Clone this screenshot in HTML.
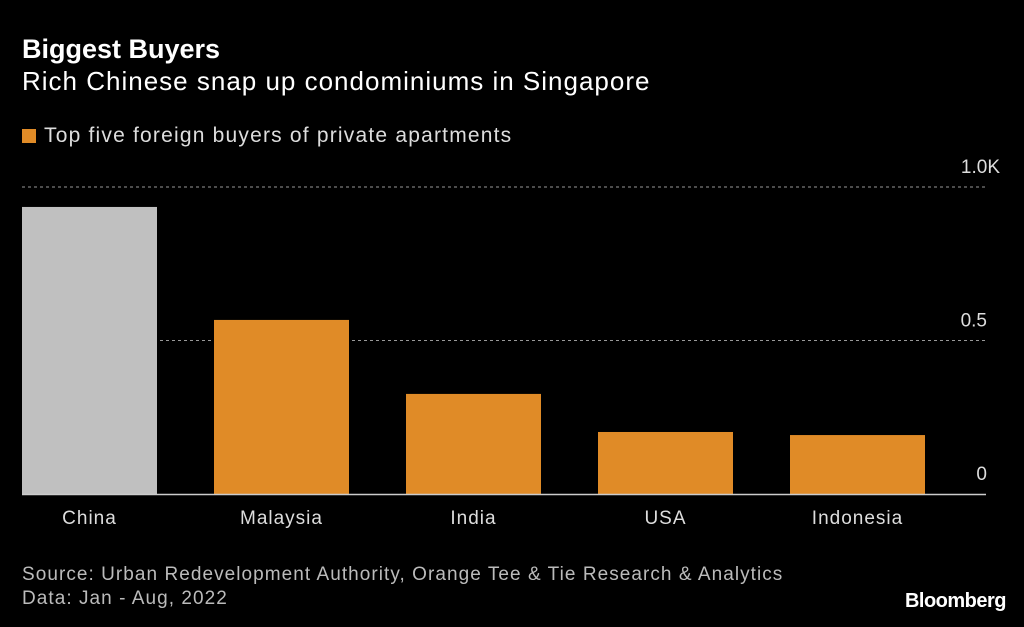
<!DOCTYPE html>
<html><head><meta charset="utf-8"><style>
body{margin:0;background:#000;width:1024px;height:627px;overflow:hidden;font-family:"Liberation Sans",sans-serif;color:#fff}
.t{position:absolute;white-space:nowrap}
</style></head><body>
<div class="t" style="left:22px;top:34px;font-size:27px;font-weight:bold">Biggest Buyers</div>
<div class="t" style="left:22px;top:66px;font-size:26px;letter-spacing:1px">Rich Chinese snap up condominiums in Singapore</div>
<div class="t" style="left:22px;top:124px;font-size:21px;letter-spacing:1.2px;color:#ddd"><span style="display:inline-block;width:14px;height:14px;background:#e08b27;margin-right:8px;vertical-align:-1px"></span>Top five foreign buyers of private apartments</div>
<svg id="c" width="1024" height="627" style="position:absolute;left:0;top:0"></svg>
<div class="t" style="left:22px;top:563px;font-size:19px;letter-spacing:1.05px;color:#bbb;line-height:24px">Source: Urban Redevelopment Authority, Orange Tee &amp; Tie Research &amp; Analytics<br>Data: Jan - Aug, 2022</div>
<div class="t" style="right:18px;top:590px;font-size:20px;font-weight:bold;letter-spacing:-0.5px">Bloomberg</div>
<script>
const categories=["China","Malaysia","India","USA","Indonesia"];
const values=[0.935,0.567,0.326,0.202,0.192];
const tickValues=[0,0.5,1.0];
const tickLabels=["0","0.5","1.0K"];
const svg=document.getElementById('c');
const NS="http://www.w3.org/2000/svg";
const y0=494,yTop=187,x0=22,step=192,bw=135;
const y=v=>y0-(y0-yTop)*v/1.0;
const xb=i=>x0+i*step;
function mk(t,a){const e=document.createElementNS(NS,t);for(const k in a)e.setAttribute(k,a[k]);svg.appendChild(e);return e;}
tickValues.forEach((v,i)=>{
 if(v!==0){const l=mk('line',{x1:x0,x2:986,y1:y(v),y2:y(v),stroke:'#999','stroke-dasharray':'3,3','stroke-width':1});
 
 }
 const t=mk('text',{x:i==2?1000:987,y:y(v)-14,'text-anchor':'end',fill:'#ddd','font-size':19,'font-family':'Liberation Sans'});
 t.textContent=tickLabels[i];
 
 
});
categories.forEach((c,i)=>{
 const r=mk('rect',{x:xb(i),y:y(values[i]),width:bw,height:y0-y(values[i]),fill:i==0?'#c0c0c0':'#e08b27'});
 
 
 const t=mk('text',{x:xb(i)+bw/2,y:524,'text-anchor':'middle',fill:'#ddd','font-size':19,'font-family':'Liberation Sans','letter-spacing':1});
 t.textContent=c;
 
 
});
const z=mk('line',{x1:x0,x2:986,y1:y0+0.5,y2:y0+0.5,stroke:'#ccc','stroke-width':1.5});


</script>
</body></html>
